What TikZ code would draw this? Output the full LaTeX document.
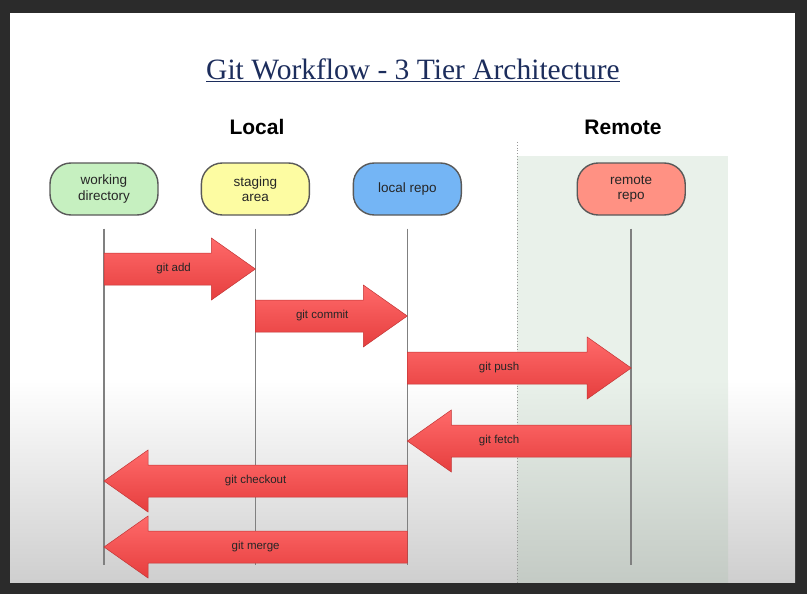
\documentclass[tikz,border=0pt]{standalone}
\usepackage{fontspec}
\setmainfont{Liberation Serif}
\setsansfont{Liberation Sans}
\usepackage{tikz}
\usetikzlibrary{positioning, calc}
\definecolor{frame}{HTML}{2B2B2B}
\definecolor{titleblue}{HTML}{1C2D5C}
\definecolor{wdgreen}{HTML}{C6F0C0}
\definecolor{sayellow}{HTML}{FDFCA2}
\definecolor{lrblue}{HTML}{74B5F5}
\definecolor{rrred}{HTML}{FF9183}
\definecolor{remotebg}{HTML}{E9F1EA}
\definecolor{arrowtop}{HTML}{FF6A6A}
\definecolor{arrowbot}{HTML}{E63E3E}
\tikzstyle{stage} = [rounded corners=21pt, minimum width=108pt, minimum height=52pt, inner sep=0pt, align=center, draw=black!65, line width=1.4pt, text=black!85, font=\sffamily\fontsize{13.5}{15.5}\selectfont]
\tikzstyle{lifeline} = [draw=black!50, line width=1.6pt]
\tikzstyle{bigarrow} = [top color=arrowtop, bottom color=arrowbot, draw=arrowbot!85!black, line width=0.5pt]
\tikzstyle{gitlabel} = [text=black!85, font=\sffamily\fontsize{11.5}{13}\selectfont]
\tikzstyle{tier} = [font=\sffamily\bfseries\fontsize{21}{24}\selectfont]
% block arrow between two lifelines: from, to, y, label pos, label
\newcommand{\gitarrow}[5]{%
  \coordinate (a) at (#1 |- 0,#3);
  \coordinate (b) at (#2 |- 0,#3);
  \coordinate (h) at ($(b)!44pt!(a)$);
  \path[bigarrow] ($(a)!16pt!90:(b)$) -- ($(h)!16pt!90:(b)$) -- ($(h)!31pt!90:(b)$) -- (b)
    -- ($(h)!31pt!-90:(b)$) -- ($(h)!16pt!-90:(b)$) -- ($(a)!16pt!-90:(b)$) -- cycle;
  \node[gitlabel] at ($(a)!#4!(b)$) {#5};
}

\begin{document}
\begin{tikzpicture}[x=1pt,y=-1pt]
    % screen and slide
    \fill[frame] (0,0) rectangle (807,594);
    \fill[white] (10,13) rectangle (795,380);
    \shade[top color=white, bottom color=black!19] (10,380) rectangle (795,582);
    \fill[remotebg] (517,156) rectangle (728,380);
    \shade[top color=remotebg, bottom color=remotebg!84!black] (517,380) rectangle (728,582);
    \draw[dotted, black!40, line width=0.8pt] (517,142) -- (517,582);

    \node[text=titleblue, font=\fontsize{29.5}{32}\selectfont] (title) at (413,70) {\underline{Git Workflow - 3 Tier Architecture}};
    \node[tier] (local) at (257,127) {Local};
    \node[tier] (remote) at (623,127) {Remote};

    \node[stage, fill=wdgreen] (wd) at (104,189) {working\\directory};
    \node[stage, fill=sayellow, right=42pt of wd] (sa) {staging\\area};
    \node[stage, fill=lrblue, right=42.5pt of sa] (lr) {local repo};
    \node[stage, fill=rrred, right=114.5pt of lr] (rr) {remote\\repo};

    \draw[lifeline] ([yshift=-13pt]wd.south) -- (wd |- 0,565);
    \draw[lifeline] ([yshift=-13pt]sa.south) -- (sa |- 0,565);
    \draw[lifeline] ([yshift=-13pt]lr.south) -- (lr |- 0,565);
    \draw[lifeline] ([yshift=-13pt]rr.south) -- (rr |- 0,565);

    \gitarrow{wd}{sa}{269}{0.46}{git add}
    \gitarrow{sa}{lr}{316}{0.44}{git commit}
    \gitarrow{lr}{rr}{368}{0.41}{git push}
    \gitarrow{rr}{lr}{441}{0.59}{git fetch}
    \gitarrow{lr}{wd}{481}{0.50}{git checkout}
    \gitarrow{lr}{wd}{547}{0.50}{git merge}

\end{tikzpicture}
\end{document}
